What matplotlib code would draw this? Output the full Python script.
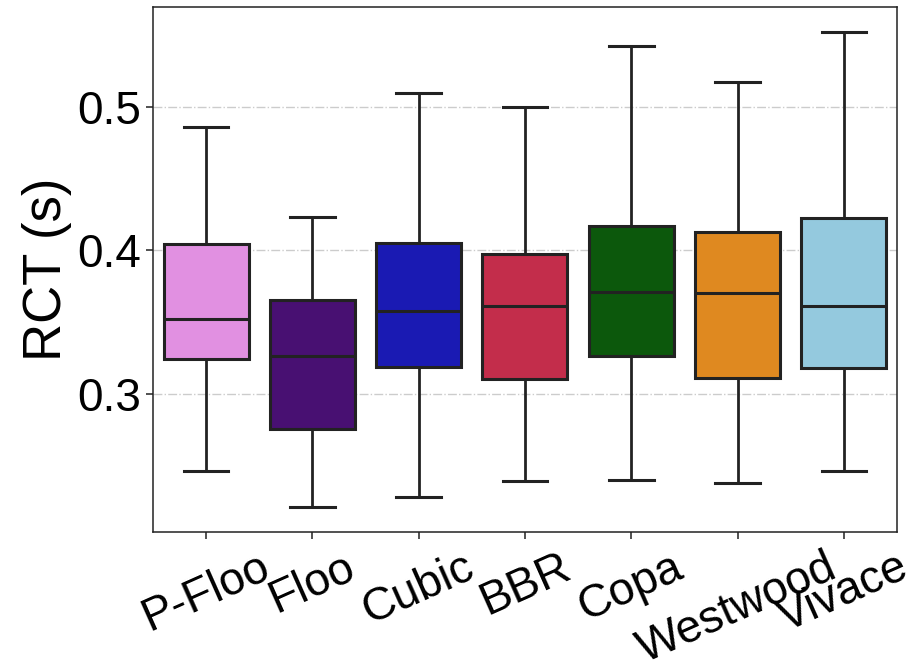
import matplotlib
matplotlib.use("Agg")
import matplotlib.pyplot as plt
import seaborn as sns

# box statistics (seconds)
algos = ["P-Floo", "Floo", "Cubic", "BBR", "Copa", "Westwood", "Vivace"]
whislo = [0.2460, 0.2211, 0.2280, 0.2391, 0.2400, 0.2381, 0.2462]
q1 = [0.3241, 0.2755, 0.3188, 0.3104, 0.3262, 0.3111, 0.3183]
med = [0.3521, 0.3262, 0.3581, 0.3612, 0.3710, 0.3701, 0.3612]
q3 = [0.4046, 0.3657, 0.4050, 0.3978, 0.4172, 0.4129, 0.4225]
whishi = [0.4860, 0.4230, 0.5099, 0.5001, 0.5423, 0.5171, 0.5521]
palette = ["violet", "indigo", "mediumblue", "crimson", "darkgreen", "darkorange", "skyblue"]

plt.rcParams['font.family'] = ['Liberation Sans', 'DejaVu Sans']

stats = []
for i in range(len(algos)):
    stats.append(dict(label=algos[i], whislo=whislo[i], q1=q1[i], med=med[i],
                      q3=q3[i], whishi=whishi[i], fliers=[]))

line_c = "#222222"
fig = plt.figure(figsize=(9.15, 6.69), dpi=100)
ax = fig.add_axes([0.1672, 0.2048, 0.8131, 0.7847])

bp = ax.bxp(stats, positions=range(len(algos)), widths=0.8, patch_artist=True,
            showfliers=False,
            boxprops=dict(edgecolor=line_c, linewidth=2.2),
            medianprops=dict(color=line_c, linewidth=2.2),
            whiskerprops=dict(color=line_c, linewidth=2.0),
            capprops=dict(color=line_c, linewidth=2.2),
            capwidths=0.42)
# seaborn-style muted fills
for patch, c in zip(bp['boxes'], palette):
    patch.set_facecolor(sns.desaturate(c, 0.75))

ax.set_xlim(-0.5, len(algos) - 0.5)
ax.set_ylim(0.2038, 0.5697)
ax.set_yticks([0.3, 0.4, 0.5])
ax.set_yticklabels(["0.3", "0.4", "0.5"])
ax.set_xticks(range(len(algos)))
ax.set_xticklabels(algos, rotation=24, ha='center')
ax.tick_params(axis='both', labelsize=33, length=4.8, width=1.1, color=line_c)
ax.tick_params(axis='x', pad=5)
ax.set_ylabel("RCT (s)", fontsize=38)

ax.grid(axis='y', linestyle='-.', color='#cccccc', linewidth=1.0)
ax.set_axisbelow(True)
for s in ax.spines.values():
    s.set_color(line_c)
    s.set_linewidth(1.1)

plt.savefig("out.png", dpi=100)
